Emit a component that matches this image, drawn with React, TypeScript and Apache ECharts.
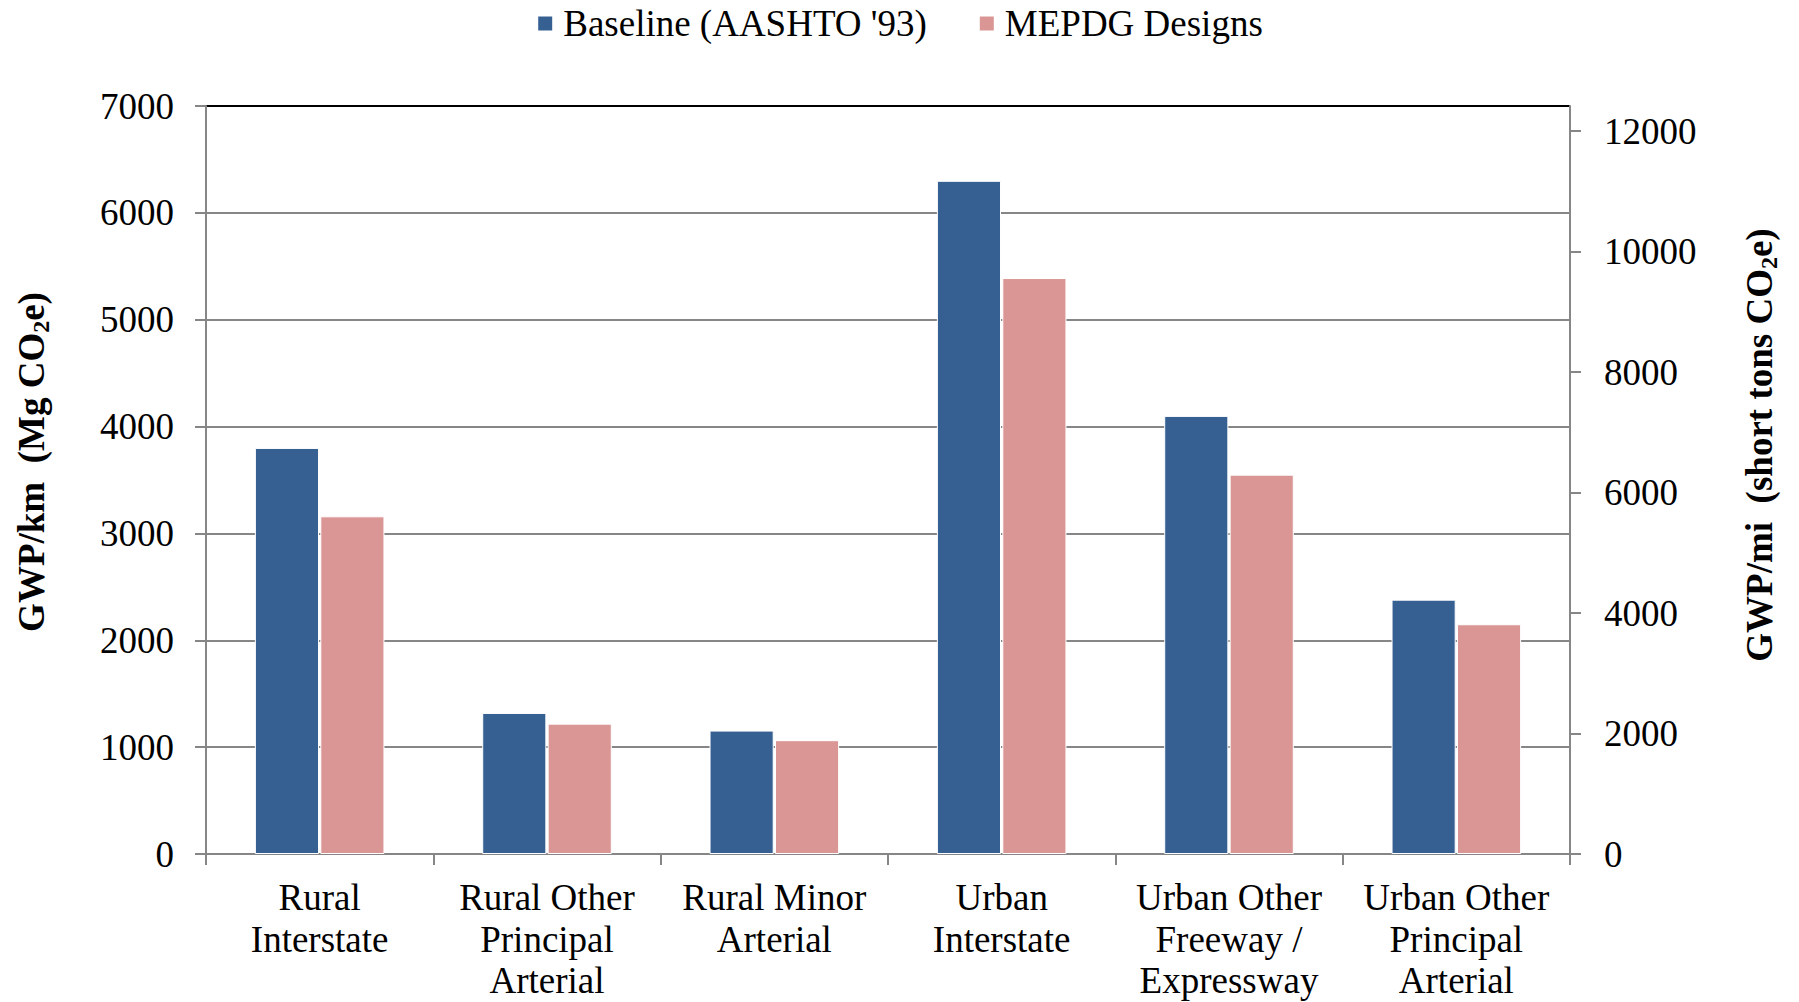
import React, { useEffect, useRef } from "react";
import * as echarts from "echarts";

// Road classes along the x axis (line breaks as set in the tick labels)
const categories = [
  "Rural\nInterstate",
  "Rural Other\nPrincipal\nArterial",
  "Rural Minor\nArterial",
  "Urban\nInterstate",
  "Urban Other\nFreeway /\nExpressway",
  "Urban Other\nPrincipal\nArterial",
];

// GWP per km, Mg CO2e
const baselineValues = [3800, 1320, 1155, 6300, 4100, 2380];
const mepdgValues = [3160, 1220, 1065, 5390, 3550, 2150];

const seriesNames = ["Baseline (AASHTO '93)", "MEPDG Designs"];

// Primary axis (Mg/km) and secondary axis (short tons/mi)
const leftMax = 7000;
const leftInterval = 1000;
const KM_PER_MI = 1.609344;
const SHORT_TONS_PER_MG = 1.10231;
const rightMax = leftMax * KM_PER_MI * SHORT_TONS_PER_MG;
const rightTicks = [0, 2000, 4000, 6000, 8000, 10000, 12000];

const FONT = '"Liberation Serif", "Times New Roman", serif';
const GRAY = "#868686";
const BLUE = "#376092";
const PINK = "#D99694";

const plainNumber = (v: number) => String(Math.round(v));

export default function App() {
  const ref = useRef<HTMLDivElement>(null);

  useEffect(() => {
    if (!ref.current) return;
    const chart = echarts.init(ref.current, undefined, { renderer: "svg" });

    const gridLeft = 206;
    const gridRight = 229;
    const gridTop = 106;
    const gridBottom = 148;

    const splitColors: string[] = [];
    for (let v = 0; v <= leftMax; v += leftInterval) {
      splitColors.push(v === leftMax ? "#000000" : GRAY);
    }

    const subRich = {
      sub: {
        fontSize: 24,
        fontWeight: "bold" as const,
        fontFamily: FONT,
        lineHeight: 24,
        verticalAlign: "bottom" as const,
        fill: "#000",
      },
      main: {
        fontSize: 37,
        fontWeight: "bold" as const,
        fontFamily: FONT,
        lineHeight: 44,
        fill: "#000",
      },
    };

    chart.setOption({
      animation: false,
      backgroundColor: "#ffffff",
      textStyle: { fontFamily: FONT, color: "#000" },
      legend: {
        data: seriesNames,
        top: 0,
        left: "center",
        icon: "rect",
        itemWidth: 16,
        itemHeight: 16,
        itemGap: 51,
        textStyle: {
          fontFamily: FONT,
          fontSize: 37,
          color: "#000",
          padding: [0, 0, 0, 5],
        },
      },
      grid: {
        left: gridLeft,
        right: gridRight,
        top: gridTop,
        bottom: gridBottom,
        containLabel: false,
        outerBoundsMode: "none",
      },
      xAxis: {
        type: "category",
        data: categories,
        axisLine: { show: true, lineStyle: { color: GRAY, width: 2 } },
        axisTick: {
          show: true,
          inside: false,
          length: 11,
          alignWithLabel: false,
          lineStyle: { color: GRAY, width: 2 },
        },
        axisLabel: {
          interval: 0,
          margin: 23,
          fontFamily: FONT,
          fontSize: 37,
          lineHeight: 41.5,
          color: "#000",
          align: "center",
        },
        splitLine: { show: false },
      },
      yAxis: [
        {
          type: "value",
          min: 0,
          max: leftMax,
          interval: leftInterval,
          position: "left",
          axisLine: { show: true, lineStyle: { color: GRAY, width: 2 } },
          axisTick: {
            show: true,
            inside: false,
            length: 11,
            lineStyle: { color: GRAY, width: 2 },
          },
          axisLabel: {
            margin: 32,
            fontFamily: FONT,
            fontSize: 37,
            color: "#000",
            formatter: plainNumber,
          },
          splitLine: {
            show: true,
            lineStyle: { color: splitColors, width: 2 },
          },
        },
        {
          type: "value",
          min: 0,
          max: rightMax,
          position: "right",
          axisLine: { show: true, lineStyle: { color: GRAY, width: 2 } },
          axisTick: {
            show: true,
            inside: false,
            length: 11,
            customValues: rightTicks,
            lineStyle: { color: GRAY, width: 2 },
          },
          axisLabel: {
            margin: 34,
            fontFamily: FONT,
            fontSize: 37,
            color: "#000",
            customValues: rightTicks,
            formatter: plainNumber,
          },
          splitLine: { show: false },
        },
      ],
      series: [
        {
          name: seriesNames[0],
          type: "bar",
          yAxisIndex: 0,
          data: baselineValues,
          barGap: "2%",
          barCategoryGap: "43%",
          itemStyle: { color: BLUE, borderColor: "#ffffff", borderWidth: 1 },
        },
        {
          name: seriesNames[1],
          type: "bar",
          yAxisIndex: 0,
          data: mepdgValues,
          barGap: "2%",
          barCategoryGap: "43%",
          itemStyle: { color: PINK, borderColor: "#ffffff", borderWidth: 1 },
        },
      ],
      graphic: [
        {
          type: "text",
          x: 31,
          y: 462,
          rotation: Math.PI / 2,
          style: {
            text: "{main|GWP/km  (Mg CO}{sub|2}{main|e)}",
            rich: subRich,
            align: "center",
            verticalAlign: "middle",
            fontFamily: FONT,
            fontSize: 37,
            fontWeight: "bold",
            fill: "#000",
          },
        },
        {
          type: "text",
          x: 1759,
          y: 445,
          rotation: Math.PI / 2,
          style: {
            text: "{main|GWP/mi  (short tons CO}{sub|2}{main|e)}",
            rich: subRich,
            align: "center",
            verticalAlign: "middle",
            fontFamily: FONT,
            fontSize: 37,
            fontWeight: "bold",
            fill: "#000",
          },
        },
      ],
    });

    return () => {
      chart.dispose();
    };
  }, []);

  return (
    <div
      ref={ref}
      style={{ position: "fixed", left: 0, top: 0, width: 1799, height: 1002 }}
    />
  );
}
